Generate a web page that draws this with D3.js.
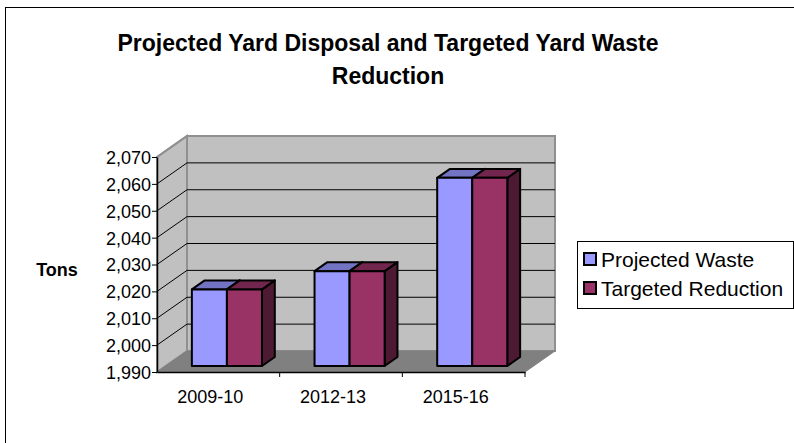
<!DOCTYPE html>
<html>
<head>
<meta charset="utf-8">
<script src="https://cdn.jsdelivr.net/npm/d3@7"></script>
<style>
  html, body { margin: 0; padding: 0; background: #fff; }
  svg { display: block; font-family: "Liberation Sans", Arial, sans-serif; }
</style>
</head>
<body>
<svg id="chart" width="794" height="443"></svg>
<script>
const categories = ["2009-10", "2012-13", "2015-16"];
const seriesNames = ["Projected Waste", "Targeted Reduction"];
const projectedWaste = [2018.5, 2025.3, 2060];
const targetedReduction = [2018.5, 2025.3, 2060];
const yTicks = [1990, 2000, 2010, 2020, 2030, 2040, 2050, 2060, 2070];
const titleLines = ["Projected Yard Disposal and Targeted Yard Waste", "Reduction"];
const yAxisTitle = "Tons";

const seriesValues = [projectedWaste, targetedReduction];
const colors = {
  front: ["#9999FF", "#993366"],
  top: ["#7373C4", "#73264D"],
  side: ["#5F5FA6", "#4D1933"]
};
const FONT = "'Liberation Sans', Arial, sans-serif";

const svg = d3.select("#chart");

// outer chart border
svg.append("rect").attr("x", 5.5).attr("y", 7.5).attr("width", 820).attr("height", 460)
  .attr("fill", "#fff").attr("stroke", "#000").attr("stroke-width", 1);

// title
svg.append("text").attr("x", 388).attr("text-anchor", "middle")
  .attr("font-weight", "bold").attr("font-size", 23).attr("font-family", FONT)
  .selectAll("tspan").data(titleLines).join("tspan")
  .attr("x", 388).attr("y", (d, i) => 51 + i * 33).text(d => d);

// geometry
const left = 157, right = 525, DX = 30, DY = -21;
const yScale = d3.scaleLinear().domain([1990, 2070]).range([372, 157]);
const x0 = d3.scaleBand().domain(categories).range([left, right]).padding(0);
const barW = x0.step() / 3.5;
const x1 = d3.scaleBand().domain(seriesNames).range([0, 2 * barW]).padding(0);
const z0 = 0.286, z1 = 0.714;
const P = (x, v, z) => [x + DX * z, yScale(v) + DY * z];
const poly = pts => pts.map(p => p.join(",")).join(" ");
const yMin = yScale.domain()[0], yMax = yScale.domain()[1];

// side wall
svg.append("polygon")
  .attr("points", poly([P(left, yMax, 0), P(left, yMax, 1), P(left, yMin, 1), P(left, yMin, 0)]))
  .attr("fill", "#C0C0C0").attr("stroke", "#909090").attr("stroke-width", 2);
// back wall
svg.append("polygon")
  .attr("points", poly([P(left, yMax, 1), P(right, yMax, 1), P(right, yMin, 1), P(left, yMin, 1)]))
  .attr("fill", "#C0C0C0").attr("stroke", "#909090").attr("stroke-width", 2);
// floor
svg.append("polygon")
  .attr("points", poly([P(left, yMin, 0), P(left, yMin, 1), P(right, yMin, 1), P(right, yMin, 0)]))
  .attr("fill", "#808080").attr("stroke", "#808080").attr("stroke-width", 1);

// gridlines (side wall diagonal + back wall horizontal)
const inner = yTicks.filter(v => v > yMin && v < yMax);
svg.append("g").selectAll("path").data(inner).join("path")
  .attr("d", v => { const a = P(left, v, 0), b = P(left, v, 1), c = P(right, v, 1);
    return `M${a[0]},${a[1]}L${b[0]},${b[1]}L${c[0]},${c[1]}`; })
  .attr("fill", "none").attr("stroke", "#000").attr("stroke-width", 1);
svg.append("path").attr("d", () => { const a = P(left, yMax, 0), b = P(left, yMax, 1); return `M${a}L${b}`; })
  .attr("stroke", "#909090").attr("stroke-width", 2);

// bars
const bars = [];
categories.forEach((c, ci) => {
  seriesNames.forEach((s, si) => {
    bars.push({ c, ci, s, si, v: seriesValues[si][ci] });
  });
});
const gBars = svg.append("g");
bars.forEach(d => {
  const xl = x0(d.c) + (x0.bandwidth() - 2 * barW) / 2 + x1(d.s);
  const xr = xl + x1.bandwidth();
  const g = gBars.append("g").attr("stroke", "#000").attr("stroke-width", 2).attr("stroke-linejoin", "round");
  g.append("polygon").attr("points", poly([P(xr, d.v, z0), P(xr, d.v, z1), P(xr, yMin, z1), P(xr, yMin, z0)]))
    .attr("fill", colors.side[d.si]);
  g.append("polygon").attr("points", poly([P(xl, d.v, z0), P(xr, d.v, z0), P(xr, d.v, z1), P(xl, d.v, z1)]))
    .attr("fill", colors.top[d.si]);
  g.append("polygon").attr("points", poly([P(xl, d.v, z0), P(xr, d.v, z0), P(xr, yMin, z0), P(xl, yMin, z0)]))
    .attr("fill", colors.front[d.si]);
});

// y axis
const yAxis = svg.append("g").attr("transform", `translate(${left},0)`)
  .call(d3.axisLeft(yScale).tickValues(yTicks).tickFormat(d3.format(",")).tickSize(5).tickSizeOuter(0));
yAxis.select(".domain").attr("stroke", "#000").attr("stroke-width", 1.5);
yAxis.selectAll(".tick line").attr("stroke", "#000");
yAxis.selectAll(".tick text").attr("font-size", 18).attr("font-family", FONT)
  .attr("fill", "#000").attr("x", -6).attr("dy", "0.36em");

// x axis
const xAxis = svg.append("g").attr("transform", `translate(0,${yScale(yMin)})`)
  .call(d3.axisBottom(x0).tickSize(0).tickSizeOuter(0));
xAxis.select(".domain").attr("stroke", "#000").attr("stroke-width", 1.5);
xAxis.selectAll(".tick text").attr("font-size", 18).attr("font-family", FONT)
  .attr("fill", "#000").attr("y", 18).attr("dy", "0.71em").attr("dx", -8);
// category boundary ticks
svg.append("g").selectAll("line").data(categories).join("line")
  .attr("x1", (d, i) => left + x0.step() * (i + 1)).attr("x2", (d, i) => left + x0.step() * (i + 1))
  .attr("y1", yScale(yMin)).attr("y2", yScale(yMin) + 5).attr("stroke", "#000");

// y axis title
svg.append("text").attr("x", 57).attr("y", 276).attr("text-anchor", "middle")
  .attr("font-weight", "bold").attr("font-size", 18).attr("font-family", FONT).text(yAxisTitle);

// legend
const lg = svg.append("g").attr("transform", "translate(577,241)");
lg.append("rect").attr("x", 0.5).attr("y", 0.5).attr("width", 216).attr("height", 67)
  .attr("fill", "#fff").attr("stroke", "#000");
const items = lg.selectAll("g.item").data(seriesNames).join("g").attr("class", "item")
  .attr("transform", (d, i) => `translate(7,${12 + i * 29})`);
items.append("rect").attr("width", 12).attr("height", 12)
  .attr("fill", (d, i) => colors.front[i]).attr("stroke", "#000").attr("stroke-width", 2);
items.append("text").attr("x", 17).attr("y", 6).attr("dy", "0.36em")
  .attr("font-size", 21).attr("font-family", FONT).text(d => d);
</script>
</body>
</html>
